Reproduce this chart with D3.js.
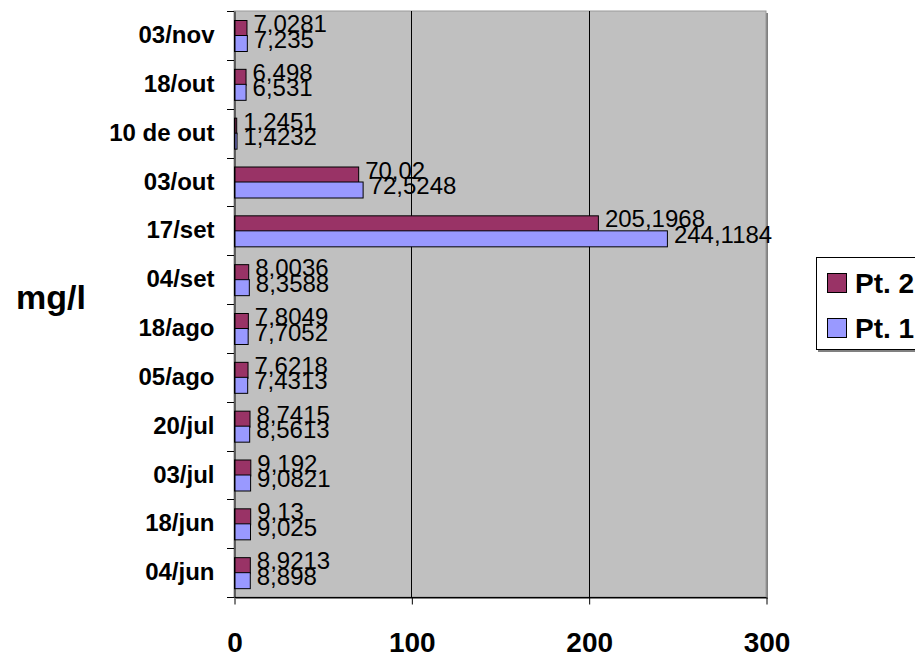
<!DOCTYPE html>
<html>
<head>
<meta charset="utf-8">
<script src="https://cdn.jsdelivr.net/npm/d3@7"></script>
<style>
  html, body { margin: 0; padding: 0; background: #fff; }
  svg { display: block; font-family: Arial, "Liberation Sans", sans-serif; }
</style>
</head>
<body>
<svg id="chart" width="915" height="657"></svg>
<script>
// Sampling dates, listed from the bottom of the chart to the top
const categories = ["04/jun", "18/jun", "03/jul", "20/jul", "05/ago", "18/ago",
  "04/set", "17/set", "03/out", "10 de out", "18/out", "03/nov"];
// Concentrations (mg/l) per sampling point
const pt2Values = [8.9213, 9.13, 9.192, 8.7415, 7.6218, 7.8049,
  8.0036, 205.1968, 70.02, 1.2451, 6.498, 7.0281];
const pt1Values = [8.898, 9.025, 9.0821, 8.5613, 7.4313, 7.7052,
  8.3588, 244.1184, 72.5248, 1.4232, 6.531, 7.235];
const xTicks = [0, 100, 200, 300];
const seriesNames = ["Pt. 2", "Pt. 1"];
const seriesColors = ["#993366", "#9999FF"];

const FONT = "Arial, 'Liberation Sans', sans-serif";
const svg = d3.select("#chart");
const plot = { left: 234, top: 11, right: 766, bottom: 597 };

const x = d3.scaleLinear().domain([0, 300]).range([plot.left, plot.right]);
// top-to-bottom order for the band scale
const y = d3.scaleBand().domain(categories.slice().reverse())
  .range([plot.top, plot.bottom]).paddingInner(0).paddingOuter(0);
const inner = d3.scaleBand().domain(seriesNames)
  .range([0, y.bandwidth()]).paddingInner(0).paddingOuter(0.57);

// plot area background with shadow
svg.append("rect").attr("x", plot.left + 2).attr("y", plot.top + 2)
  .attr("width", plot.right - plot.left).attr("height", plot.bottom - plot.top)
  .attr("fill", "#808080");
svg.append("rect").attr("x", plot.left).attr("y", plot.top)
  .attr("width", plot.right - plot.left).attr("height", plot.bottom - plot.top)
  .attr("fill", "#C0C0C0").attr("stroke", "#999").attr("stroke-width", 1);

// vertical gridlines
svg.append("g").selectAll("line").data(xTicks.filter(d => d > 0 && d < 300)).join("line")
  .attr("x1", d => Math.round(x(d)) + 0.5).attr("x2", d => Math.round(x(d)) + 0.5)
  .attr("y1", plot.top).attr("y2", plot.bottom)
  .attr("stroke", "#000").attr("stroke-width", 1);

// bars
const rows = categories.map((c, i) => ({ c, vals: [pt2Values[i], pt1Values[i]] }));
const groups = svg.append("g").selectAll("g").data(rows).join("g")
  .attr("transform", d => `translate(0,${y(d.c)})`);
groups.selectAll("rect").data(d => d.vals.map((v, k) => ({ v, k }))).join("rect")
  .attr("x", x(0) + 0.5)
  .attr("y", d => Math.round(inner(seriesNames[d.k])) + 0.5)
  .attr("width", d => x(d.v) - x(0))
  .attr("height", Math.round(inner.bandwidth()))
  .attr("fill", d => seriesColors[d.k])
  .attr("stroke", "#000").attr("stroke-width", 1);

// value labels
groups.selectAll("text").data(d => d.vals.map((v, k) => ({ v, k }))).join("text")
  .attr("x", d => x(d.v) + 7)
  .attr("y", d => inner(seriesNames[d.k]) + inner.bandwidth() / 2 - 4)
  .attr("dy", "0.35em")
  .attr("font-size", 24)
  .attr("font-family", FONT)
  .attr("fill", "#000")
  .text(d => String(d.v).replace(".", ","));

// y axis (category)
const yAxis = d3.axisLeft(y).tickSize(0).tickPadding(20);
const yg = svg.append("g").attr("transform", `translate(${plot.left + 0.5},0)`).call(yAxis);
yg.select(".domain").attr("stroke", "#000");
yg.selectAll("text").attr("font-size", 24).attr("font-weight", "bold")
  .attr("font-family", FONT).attr("fill", "#000").attr("dy", "0.32em");
// boundary ticks between categories
const bounds = d3.range(categories.length + 1).map(i => plot.top + i * y.bandwidth());
svg.append("g").selectAll("line").data(bounds).join("line")
  .attr("x1", plot.left - 7).attr("x2", plot.left)
  .attr("y1", d => Math.round(d) + 0.5).attr("y2", d => Math.round(d) + 0.5)
  .attr("stroke", "#000");

// x axis (value)
const xAxis = d3.axisBottom(x).tickValues(xTicks).tickSize(7).tickPadding(0)
  .tickFormat(d3.format("d"));
const xg = svg.append("g").attr("transform", `translate(0.5,${plot.bottom + 0.5})`).call(xAxis);
xg.select(".domain").attr("d", `M${plot.left},0H${plot.right}`).attr("stroke", "#000");
xg.selectAll(".tick line").attr("stroke", "#000");
xg.selectAll("text").attr("font-size", 28).attr("font-weight", "bold")
  .attr("font-family", FONT).attr("fill", "#000")
  .attr("y", 54).attr("dy", 0);

// axis title
svg.append("text").attr("x", 16).attr("y", 309)
  .attr("font-size", 34).attr("font-weight", "bold")
  .attr("font-family", FONT).text("mg/l");

// legend
const lg = svg.append("g");
lg.append("rect").attr("x", 818).attr("y", 259).attr("width", 110).attr("height", 93)
  .attr("fill", "#808080");
lg.append("rect").attr("x", 816.5).attr("y", 257.5).attr("width", 110).attr("height", 92)
  .attr("fill", "#fff").attr("stroke", "#000");
seriesNames.forEach((name, i) => {
  const yy = 273 + i * 45;
  lg.append("rect").attr("x", 827.5).attr("y", yy + 0.5).attr("width", 19).attr("height", 19)
    .attr("fill", seriesColors[i]).attr("stroke", "#000");
  lg.append("text").attr("x", 855).attr("y", yy + 20)
    .attr("font-size", 28).attr("font-weight", "bold")
    .attr("font-family", FONT).text(name);
});
</script>
</body>
</html>
